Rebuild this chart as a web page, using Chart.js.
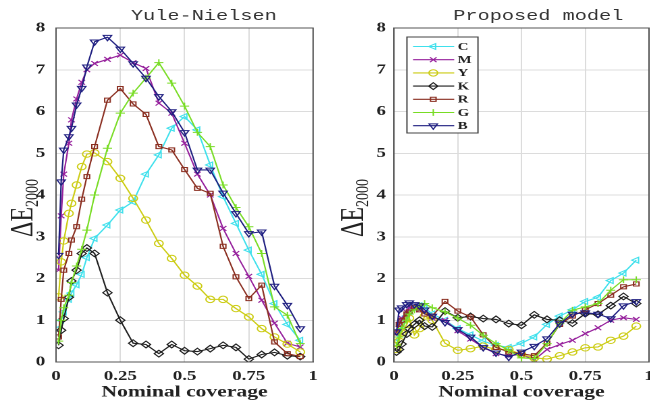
<!DOCTYPE html>
<html>
<head>
<meta charset="utf-8">
<script src="https://cdn.jsdelivr.net/npm/chart.js@4.4.0/dist/chart.umd.min.js"></script>
<style>
  html, body { margin: 0; padding: 0; background: #fff; width: 650px; height: 402px; overflow: hidden; }
  canvas { position: absolute; top: 0; transform-origin: 0 0; transform: scaleX(1.35); }
</style>
</head>
<body>
<canvas id="chartYN" width="241" height="402" style="left:0px"></canvas>
<canvas id="chartPM" width="245" height="402" style="left:325px"></canvas>
<script>
// --- data ---
const coverage = [0.01, 0.02, 0.03, 0.05, 0.06, 0.08, 0.1, 0.12, 0.15, 0.2, 0.25, 0.3, 0.35,
                  0.4, 0.45, 0.5, 0.55, 0.6, 0.65, 0.7, 0.75, 0.8, 0.85, 0.9, 0.95];
const inkNames = ['C', 'M', 'Y', 'K', 'R', 'G', 'B'];

// Yule-Nielsen
const ynC = [0.8, 1.0, 1.2, 1.5, 1.65, 1.85, 2.1, 2.5, 2.96, 3.28, 3.64, 3.84, 4.5, 4.96, 5.6, 5.88, 5.56, 4.72, 3.96, 3.32, 2.68, 2.1, 1.4, 0.9, 0.52];
const ynM = [2.2, 3.5, 4.5, 5.24, 5.8, 6.3, 6.7, 7.0, 7.15, 7.25, 7.35, 7.17, 7.03, 6.2, 5.96, 5.24, 4.5, 4.0, 3.2, 2.6, 2.05, 1.48, 0.93, 0.45, 0.36];
const ynY = [1.56, 2.4, 2.9, 3.56, 3.8, 4.24, 4.68, 4.98, 5.01, 4.8, 4.4, 3.92, 3.4, 2.84, 2.48, 2.08, 1.82, 1.5, 1.5, 1.28, 1.08, 0.8, 0.6, 0.43, 0.24];
const ynK = [0.4, 0.76, 1.04, 1.55, 1.94, 2.2, 2.6, 2.73, 2.6, 1.66, 1.0, 0.45, 0.42, 0.2, 0.42, 0.27, 0.25, 0.32, 0.4, 0.35, 0.07, 0.18, 0.23, 0.15, 0.13];
const ynR = [0.6, 1.5, 2.2, 2.6, 2.92, 3.24, 3.9, 4.44, 5.16, 6.27, 6.55, 6.18, 5.93, 5.16, 5.08, 4.61, 4.16, 4.04, 2.77, 2.04, 1.52, 1.84, 0.48, 0.2, 0.13];
const ynG = [0.5, 1.0, 1.3, 1.6, 1.9, 2.3, 2.7, 3.16, 4.0, 5.12, 5.96, 6.44, 6.8, 7.17, 6.68, 6.13, 5.5, 5.16, 4.24, 3.7, 3.24, 2.6, 1.32, 1.12, 0.44];
const ynB = [2.56, 4.32, 5.08, 5.4, 5.6, 6.16, 6.56, 7.07, 7.67, 7.78, 7.5, 7.15, 6.8, 6.36, 6.0, 5.5, 4.6, 4.6, 4.05, 3.56, 3.08, 3.12, 1.82, 1.36, 0.8];

// Proposed model
const pmC = [0.5, 0.75, 0.9, 1.1, 1.2, 1.3, 1.35, 1.3, 1.15, 1.0, 0.8, 0.65, 0.5, 0.4, 0.35, 0.45, 0.6, 0.9, 1.1, 1.25, 1.45, 1.55, 1.95, 2.13, 2.44];
const pmM = [0.7, 0.9, 1.05, 1.2, 1.3, 1.3, 1.25, 1.2, 1.05, 1.0, 0.75, 0.55, 0.35, 0.2, 0.15, 0.18, 0.05, 0.3, 0.42, 0.52, 0.68, 0.82, 1.0, 1.06, 1.02];
const pmY = [0.3, 0.5, 0.7, 0.9, 1.05, 0.65, 0.8, 1.1, 1.0, 0.45, 0.28, 0.32, 0.38, 0.3, 0.3, 0.18, 0.1, 0.07, 0.15, 0.24, 0.34, 0.36, 0.52, 0.62, 0.86];
const pmK = [0.24, 0.3, 0.43, 0.67, 0.8, 0.9, 1.0, 0.86, 0.84, 1.22, 1.06, 1.09, 1.04, 1.02, 0.92, 0.88, 1.13, 1.02, 1.0, 0.93, 1.16, 1.14, 1.35, 1.57, 1.4];
const pmR = [0.7, 0.9, 1.0, 1.15, 1.2, 1.3, 1.25, 1.15, 1.1, 1.45, 1.22, 1.08, 0.65, 0.35, 0.24, 0.2, 0.15, 0.45, 0.9, 1.1, 1.25, 1.4, 1.6, 1.8, 1.87];
const pmG = [0.4, 0.6, 0.8, 1.0, 1.15, 1.25, 1.35, 1.4, 1.3, 1.2, 1.05, 0.88, 0.64, 0.44, 0.28, 0.1, 0.08, 0.44, 0.92, 1.24, 1.32, 1.4, 1.72, 1.97, 1.97];
const pmB = [0.73, 1.25, 1.3, 1.38, 1.42, 1.38, 1.35, 1.25, 1.1, 0.95, 0.78, 0.6, 0.35, 0.22, 0.12, 0.24, 0.38, 0.56, 0.92, 1.15, 1.18, 1.15, 1.04, 1.35, 1.45];

const xTickVals = [0, 0.25, 0.5, 0.75, 1];
const xTickLabels = ['0', '0.25', '0.5', '0.75', '1'];
const yTicksMin = 0, yTicksMax = 8, yStep = 1;

// --- styles ---
const inkStyle = {
  C: { color: '#3fe0ec', shape: 'triangle', rot: -90, r: 3.4 },
  M: { color: '#96209c', shape: 'crossRot', rot: 0, r: 3.4 },
  Y: { color: '#cccc14', shape: 'circle', rot: 0, r: 3.2 },
  K: { color: '#1e1e1e', shape: 'rectRot', rot: 0, r: 3.4 },
  R: { color: '#8a2e20', shape: 'rect', rot: 0, r: 2.9 },
  G: { color: '#78dc24', shape: 'cross', rot: 0, r: 3.4 },
  B: { color: '#1e1e80', shape: 'triangle', rot: 180, r: 3.6 }
};
const serif = '"Liberation Serif", "Times New Roman", serif';
const gridCol = '#dcdcdc';
const axisCol = '#555';

function buildSets(series) {
  return inkNames.map((n, i) => {
    const st = inkStyle[n];
    return {
      label: n,
      data: coverage.map((x, j) => ({ x: x, y: series[i][j] })),
      borderColor: st.color,
      backgroundColor: 'transparent',
      borderWidth: 1.1,
      pointStyle: st.shape,
      pointRotation: st.rot,
      pointRadius: st.r,
      pointBorderColor: st.color,
      pointBackgroundColor: 'transparent',
      pointBorderWidth: 1,
      tension: 0,
      order: inkNames.length - i
    };
  });
}

// frame, title and the ΔE2000 axis label
const decor = {
  id: 'decor',
  afterDraw(chart, args, o) {
    const ctx = chart.ctx, a = chart.chartArea;
    ctx.save();
    ctx.strokeStyle = axisCol;
    ctx.lineWidth = 1;
    ctx.strokeRect(a.left, a.top, a.right - a.left, a.bottom - a.top);

    ctx.fillStyle = '#333';
    ctx.font = '15px "Liberation Mono", monospace';
    ctx.textAlign = 'center';
    ctx.textBaseline = 'middle';
    ctx.fillText(o.title, o.titleX, 16);

    // y label, rotated
    ctx.translate(o.yLabX, o.yLabY);
    ctx.rotate(-Math.PI / 2);
    ctx.textAlign = 'left';
    ctx.textBaseline = 'alphabetic';
    ctx.fillStyle = '#222';
    ctx.font = '24px ' + serif;
    const wMain = ctx.measureText('ΔE').width;
    ctx.font = '14px ' + serif;
    const wSub = ctx.measureText('2000').width;
    const x0 = -(wMain + wSub) / 2;
    ctx.font = '24px ' + serif;
    ctx.fillText('ΔE', x0, 0);
    ctx.font = '14px ' + serif;
    ctx.fillText('2000', x0 + wMain, 4);
    ctx.restore();
  }
};

// boxed legend inside the right plot
const legendBox = {
  id: 'legendBox',
  afterDraw(chart, args, o) {
    if (!o.show) return;
    const ctx = chart.ctx;
    ctx.save();
    ctx.fillStyle = '#fff';
    ctx.fillRect(o.x, o.y, o.w, o.h);
    ctx.strokeStyle = '#444';
    ctx.lineWidth = 1;
    ctx.strokeRect(o.x, o.y, o.w, o.h);
    inkNames.forEach((n, i) => {
      const st = inkStyle[n];
      const cy = o.y + 9.5 + i * 13.2;
      ctx.strokeStyle = st.color;
      ctx.lineWidth = 1.1;
      ctx.beginPath();
      ctx.moveTo(o.x + 4.5, cy);
      ctx.lineTo(o.x + 35, cy);
      ctx.stroke();
      ctx.fillStyle = 'rgba(0,0,0,0)';
      ctx.lineWidth = 1;
      Chart.helpers.drawPoint(ctx, { pointStyle: st.shape, rotation: st.rot, radius: st.r, borderWidth: 1 }, o.x + 19.5, cy);
      ctx.fillStyle = '#222';
      ctx.font = 'bold 11px ' + serif;
      ctx.textAlign = 'left';
      ctx.textBaseline = 'middle';
      ctx.fillText(n, o.x + 37.5, cy + 0.5);
    });
    ctx.restore();
  }
};

function makeChart(id, series, opts) {
  return new Chart(document.getElementById(id), {
    type: 'line',
    data: { datasets: buildSets(series) },
    options: {
      responsive: false,
      devicePixelRatio: 2,
      animation: false,
      layout: { padding: { left: 0, top: 28, right: opts.padRight, bottom: 0 } },
      plugins: {
        legend: { display: false },
        tooltip: { enabled: false },
        decor: { title: opts.title, titleX: opts.titleX, yLabX: opts.yLabX, yLabY: 208 },
        legendBox: opts.legend
      },
      scales: {
        x: {
          type: 'linear', min: xTickVals[0], max: xTickVals[xTickVals.length - 1],
          afterBuildTicks(s) { s.ticks = xTickVals.map(v => ({ value: v })); },
          ticks: { padding: 6, color: '#222', maxRotation: 0, autoSkip: false,
                   callback: (v) => xTickLabels[xTickVals.indexOf(v)],
                   font: { family: serif, size: 14, weight: 'bold' } },
          grid: { color: gridCol, drawTicks: false },
          border: { color: axisCol },
          title: { display: true, text: 'Nominal coverage', color: '#222', padding: 0,
                   font: { family: serif, size: 16, weight: 'bold' } },
          afterFit(s) { s.height = 40; s.paddingLeft = 0; s.paddingRight = 0; }
        },
        y: {
          type: 'linear', min: yTicksMin, max: yTicksMax,
          ticks: { stepSize: yStep, padding: opts.yTickPad, color: '#222',
                   font: { family: serif, size: 14, weight: 'bold' } },
          grid: { color: gridCol, drawTicks: false },
          border: { color: axisCol },
          afterFit(s) { s.width = opts.yWidth; s.paddingTop = 0; s.paddingBottom = 0; }
        }
      }
    },
    plugins: [decor, legendBox]
  });
}

makeChart('chartYN', [ynC, ynM, ynY, ynK, ynR, ynG, ynB], {
  title: 'Yule-Nielsen', titleX: 151, yLabX: 24, yWidth: 41.5, yTickPad: 8, padRight: 9.1,
  legend: { show: false }
});
makeChart('chartPM', [pmC, pmM, pmY, pmK, pmR, pmG, pmB], {
  title: 'Proposed model', titleX: 158, yLabX: 28, yWidth: 51.1, yTickPad: 6, padRight: 3.5,
  legend: { show: true, x: 60.7, y: 37, w: 52.6, h: 96 }
});
</script>
</body>
</html>
